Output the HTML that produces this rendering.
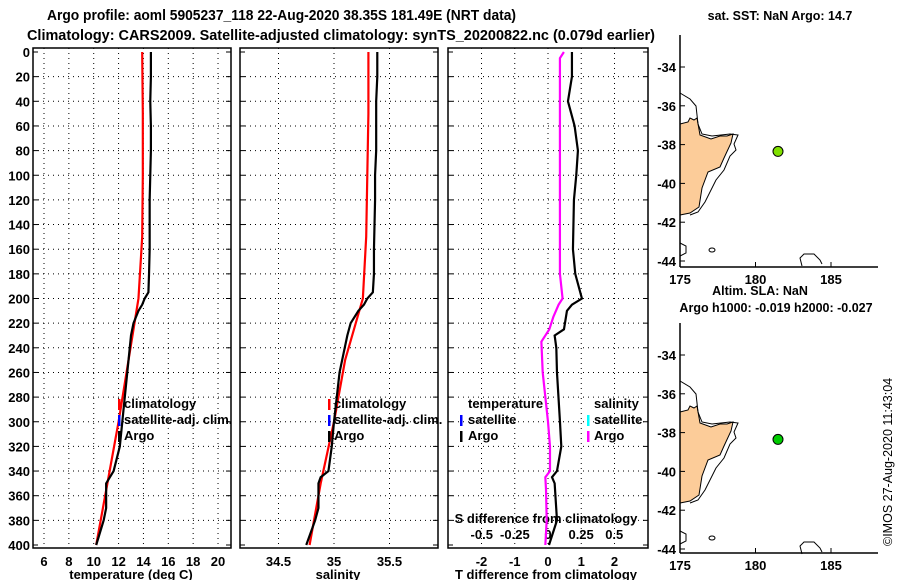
<!DOCTYPE html>
<html><head><meta charset="utf-8"><style>
body{margin:0;background:#fff;}
svg{display:block;font-family:"Liberation Sans",sans-serif;font-weight:bold;}
</style></head><body>
<svg id="c" width="900" height="580" viewBox="0 0 900 580" xmlns="http://www.w3.org/2000/svg">
<text x="47" y="20" font-size="14.5" textLength="469" lengthAdjust="spacingAndGlyphs">Argo profile: aoml 5905237_118 22-Aug-2020 38.35S 181.49E (NRT data)</text>
<text x="27" y="40" font-size="14.5" textLength="628" lengthAdjust="spacingAndGlyphs">Climatology: CARS2009. Satellite-adjusted climatology: synTS_20200822.nc (0.079d earlier)</text>
<text x="780" y="20" font-size="12.5" text-anchor="middle">sat. SST: NaN Argo: 14.7</text>
<text x="760" y="295" font-size="12.5" text-anchor="middle">Altim. SLA: NaN</text>
<text x="776" y="312" font-size="12.5" text-anchor="middle">Argo h1000: -0.019 h2000: -0.027</text>
<text transform="translate(892,546) rotate(-90)" font-size="12.5" font-weight="normal">©IMOS 27-Aug-2020 11:43:04</text>
<g id="g"></g>
</svg>
<script>
// ---- data ----
const depthTicks=[0,20,40,60,80,100,120,140,160,180,200,220,240,260,280,300,320,340,360,380,400];
const tempTicks=[6,8,10,12,14,16,18,20];
const salTicks=[34.5,35,35.5];
const tdiffTicks=[-2,-1,0,1,2];
const sdiffTicks=[-0.5,-0.25,0,0.25,0.5];
const climDepth=[0,50,100,150,200,250,300,350,400];
const climTemp=[13.9,13.95,13.95,13.9,13.6,12.8,12.0,11.1,10.2];
const climSal=[35.31,35.31,35.3,35.29,35.26,35.1,35.0,34.88,34.78];
const argoDepth=[0,20,40,60,80,100,120,160,180,195,200,205,210,220,230,260,300,320,340,345,350,360,370,380,400];
const argoTemp=[14.6,14.6,14.55,14.6,14.6,14.55,14.5,14.5,14.45,14.4,14.1,13.9,13.6,13.2,13.0,12.7,12.3,12.1,11.6,11.3,11.0,11.0,11.0,10.8,10.2];
const argoSal=[35.39,35.39,35.38,35.38,35.38,35.37,35.37,35.36,35.36,35.35,35.3,35.27,35.22,35.15,35.12,35.05,35.0,34.98,34.95,34.88,34.86,34.86,34.86,34.83,34.75];
const tdDepth=[0,20,40,60,80,100,120,160,180,200,205,210,225,230,240,260,300,320,340,345,350,380,400];
const tdVal=[0.72,0.72,0.6,0.8,0.9,0.85,0.78,0.75,0.82,1.02,0.72,0.57,0.48,0.2,0.25,0.27,0.36,0.4,0.27,0.12,0.2,0.27,0.03];
const sdDepth=[0,5,20,100,180,200,205,215,225,235,260,300,320,340,345,355,380,400];
const sdVal=[0.12,0.09,0.09,0.09,0.09,0.11,0.08,0.04,0.01,-0.05,-0.04,0,0.015,0.015,-0.02,-0.015,-0.01,-0.02];
const mapX=[175,180,185];
const mapY=[-34,-36,-38,-40,-42,-44];
const floatLon=[181.49];
const floatLat=[-38.35];

const NS="http://www.w3.org/2000/svg";
const G=document.getElementById('g');
function el(t,a,p){const e=document.createElementNS(NS,t);for(const k in a)e.setAttribute(k,a[k]);(p||G).appendChild(e);return e;}
const y=d=>52+d*1.2325;
const FS=13;
function panel(x0,x1,sx,ticks,fmt,name,showY){
  const g=el('g',{});
  
  
  depthTicks.forEach(d=>{
    if(d>0&&d<400) el('line',{x1:x0,x2:x1,y1:y(d),y2:y(d),stroke:'#000','stroke-dasharray':'1,4'},g);
    el('line',{x1:x0,x2:x0+5,y1:y(d),y2:y(d),stroke:'#000'},g);
    el('line',{x1:x1-5,x2:x1,y1:y(d),y2:y(d),stroke:'#000'},g);
    if(showY){const t=el('text',{x:x0-3,y:y(d)+5,'font-size':FS,'text-anchor':'end'},g);t.textContent=d;
      }
  });
  ticks.forEach(v=>{
    const x=sx(v);
    el('line',{x1:x,x2:x,y1:48,y2:548,stroke:'#000','stroke-dasharray':'1,4'},g);
    if(fmt){const t=el('text',{x:x,y:566,'font-size':FS,'text-anchor':'middle'},g);t.textContent=fmt(v);
      }
  });
  el('rect',{x:x0,y:48,width:x1-x0,height:500,fill:'none',stroke:'#000','stroke-width':1.5},g);
  return g;
}
function line(ds,vs,sx,col,name){
  const p=el('polyline',{points:ds.map((d,i)=>sx(vs[i])+','+y(d)).join(' '),fill:'none',stroke:col,'stroke-width':2.2});
  
  
}
function txt(x,yy,s,name,anchor){const t=el('text',{x:x,y:yy,'font-size':FS,'text-anchor':anchor||'start'});t.textContent=s;
  }
function tick(x,yy,col){el('rect',{x:x-1,y:yy-6,width:2.5,height:11,fill:col});}

const sT=v=>44+(v-6)*12.43, sS=v=>334+(v-35)*111, sTD=v=>548+v*33.25, sSD=v=>548+v*132.5;
panel(33,231,sT,tempTicks,v=>v,'temperature-panel',true);
panel(240,438,sS,salTicks,v=>v,'salinity-panel',false);
panel(448,648,sTD,tdiffTicks,v=>v,'difference-panel',false);
txt(131,579,'temperature (deg C)','temperature-axis-title','middle');
txt(338,579,'salinity','salinity-axis-title','middle');
txt(546,579,'T difference from climatology','tdiff-axis-title','middle');
txt(546,523,'S difference from climatology','sdiff-axis-title','middle');
sdiffTicks.forEach(v=>txt(sSD(v),539,v===0?'0':String(v),'sdiff-tick-label','middle'));

line(climDepth,climTemp,sT,'#f00','temp-climatology-line');
line(argoDepth,argoTemp,sT,'#000','temp-argo-line');
line(climDepth,climSal,sS,'#f00','sal-climatology-line');
line(argoDepth,argoSal,sS,'#000','sal-argo-line');
line(tdDepth,tdVal,sTD,'#000','tdiff-argo-line');
line(sdDepth,sdVal,sSD,'#f0f','sdiff-argo-line');

tick(119,405,'#f00');tick(119,421,'#00f');tick(119,437,'#000');
txt(124,408,'climatology','legend-climatology');txt(124,424,'satellite-adj. clim.','legend-satellite');txt(124,440,'Argo','legend-argo');
tick(329,405,'#f00');tick(329,421,'#00f');tick(329,437,'#000');
txt(334,408,'climatology','legend-climatology');txt(334,424,'satellite-adj. clim.','legend-satellite');txt(334,440,'Argo','legend-argo');
txt(468,408,'temperature','legend-temperature-header');
tick(461,421,'#00f');tick(461,437,'#000');txt(468,424,'satellite','legend-t-satellite');txt(468,440,'Argo','legend-t-argo');
txt(594,408,'salinity','legend-salinity-header');
tick(588,421,'#0ff');tick(588,437,'#f0f');txt(594,424,'satellite','legend-s-satellite');txt(594,440,'Argo','legend-s-argo');

function map(top,bottom,name){
  const g=el('g',{});
  
  
  const y0=top===35?67:355;
  const mx=v=>680+(v-175)*15.1, my=v=>y0+(-34-v)*19.4;
  const o=my(-34)-67;
  const land="680,124 688,122 690,118 694,120 697,118 700,135 711,139 720,136 727,136 733,134 731,143 724,158 720,167 708,172 702,188 699,207 690,213 680,215";
  const P=s=>s.split(' ').map(q=>{const a=q.split(',');return a[0]+','+(+a[1]+o);}).join(' ');
  el('polygon',{points:P(land),fill:'#fccc99',stroke:'#000','stroke-width':1},g);
  el('polyline',{points:P("680,93 690,99 696,106 698,124 702,134 712,136 730,134 738,135 734,144 736,150 730,156 724,170 716,180 705,202 698,212 690,215"),fill:'none',stroke:'#000','stroke-width':1},g);
  el('polyline',{points:P("680,243 686,246 686,253 680,256"),fill:'none',stroke:'#000'},g);
  el('ellipse',{cx:712,cy:250+o,rx:3,ry:2,fill:'none',stroke:'#000'},g);
  el('polyline',{points:P("802,266 800,258 804,254 814,254 820,260 822,264"),fill:'none',stroke:'#000'},g);
  mapY.forEach(v=>{el('line',{x1:680,x2:685,y1:my(v),y2:my(v),stroke:'#000'},g);
    const t=el('text',{x:676,y:my(v)+5,'font-size':FS,'text-anchor':'end'},g);t.textContent=v;
    });
  mapX.forEach(v=>{el('line',{x1:mx(v),x2:mx(v),y1:bottom,y2:bottom-5,stroke:'#000'},g);
    const t=el('text',{x:mx(v),y:bottom+17,'font-size':FS,'text-anchor':'middle'},g);t.textContent=v;
    });
  el('line',{x1:680,x2:680,y1:top,y2:bottom,stroke:'#000','stroke-width':1.5},g);
  el('line',{x1:680,x2:878,y1:bottom,y2:bottom,stroke:'#000','stroke-width':1.5},g);
  floatLon.forEach((lo,i)=>{const c=el('circle',{cx:mx(lo),cy:my(floatLat[i]),r:5,fill:top===35?'#80e000':'#00cc00',stroke:'#000'},g);
    });
}
map(35,267,'sst-map');
map(323,553,'sla-map');
</script>
</body></html>
